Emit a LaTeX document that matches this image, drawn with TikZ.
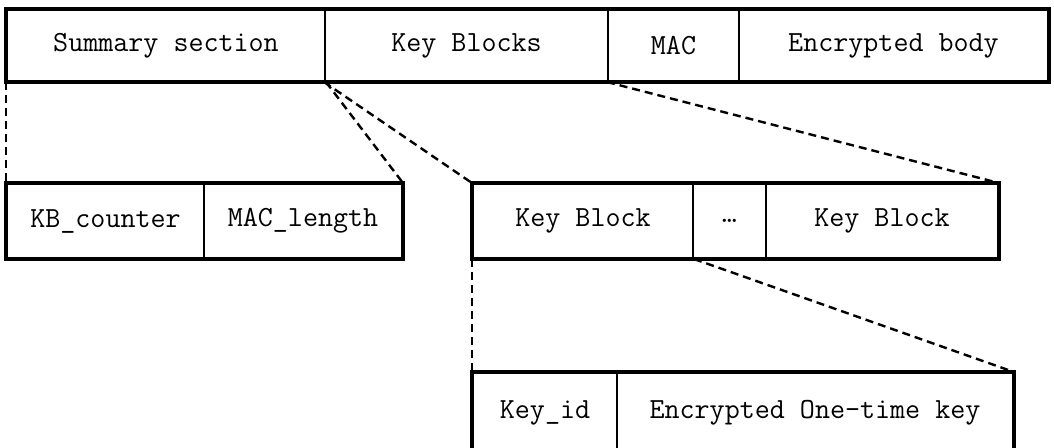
\documentclass[tikz,border=0pt]{standalone}
\usepackage{fontspec}
\begin{document}
\begin{tikzpicture}[x=0.5pt,y=-0.5pt,
  cell/.style={draw, line width=1pt, inner sep=0pt, anchor=center,
    font=\fontsize{14.6}{16}\selectfont\ttfamily},
  frame/.style={line width=1.6pt},
  link/.style={line width=1.2pt, dash pattern=on 4pt off 2.5pt}]
\useasboundingbox (0,0) rectangle (1054,447);
\clip (0,0) rectangle (1054,447);

% message layout
\node[cell, minimum width=159pt, minimum height=35.5pt] (ss) at (166,45.5) {Summary section};
\node[cell, minimum width=141.5pt, minimum height=35.5pt] (kb) at (466.5,45.5) {Key Blocks};
\node[cell, minimum width=65.5pt, minimum height=35.5pt] (mac) at (673.5,45.5) {MAC};
\node[cell, minimum width=154.5pt, minimum height=35.5pt] (eb) at (893.5,45.5) {Encrypted body};
\draw[frame] (ss.north west) rectangle (eb.south east);

% summary section fields
\node[cell, minimum width=98.5pt, minimum height=37pt] (kbc) at (105.5,221) {KB\_counter};
\node[cell, minimum width=99pt, minimum height=37pt] (macl) at (303,221) {MAC\_length};
\draw[frame] (kbc.north west) rectangle (macl.south east);

% key blocks
\node[cell, minimum width=110pt, minimum height=37pt] (kb1) at (583,221) {Key Block};
\node[cell, minimum width=36.5pt, minimum height=37pt] (dots) at (729.5,221) {…};
\node[cell, minimum width=116pt, minimum height=37pt] (kb2) at (882,221) {Key Block};
\draw[frame] (kb1.north west) rectangle (kb2.south east);

% key block fields
\node[cell, minimum width=72pt, minimum height=39.5pt] (kid) at (545,412.5) {Key\_id};
\node[cell, minimum width=198pt, minimum height=39.5pt] (eok) at (815,412.5) {Encrypted One-time key};
\draw[frame] (kid.north west) rectangle (eok.south east);

% expansion lines
\draw[link] (ss.south west) -- (kbc.north west);
\draw[link] (ss.south east) -- (macl.north east);
\draw[link] (kb.south west) -- (kb1.north west);
\draw[link] (mac.south west) -- (kb2.north east);
\draw[link] (kb1.south west) -- (kid.north west);
\draw[link] (kb1.south east) -- (eok.north east);
\end{tikzpicture}
\end{document}
